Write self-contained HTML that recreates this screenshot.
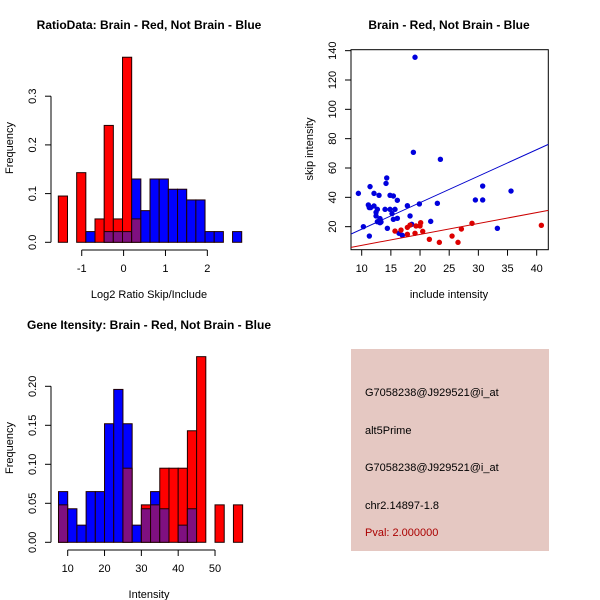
<!DOCTYPE html>
<html><head><meta charset="utf-8"><style>
html,body{margin:0;padding:0;background:#fff}
svg{display:block;font-family:"Liberation Sans",sans-serif}
</style></head><body>
<svg id="c" width="600" height="600" viewBox="0 0 600 600"></svg>
<script>
// Panel 1: ratio histogram (bins start -1.559, width 0.219)
const ratioRed=[0.095,0,0.143,0,0.048,0.24,0.048,0.38,0.048,0,0,0,0,0,0,0,0,0,0,0];
const ratioBlue=[0,0,0,0.022,0,0.022,0.022,0.022,0.13,0.065,0.13,0.13,0.109,0.109,0.087,0.087,0.022,0.022,0,0.022];
const ratioXTicks=[-1,0,1,2];
const ratioYTicks=[0,0.1,0.2,0.3];
// Panel 2: scatter
const blueX=[9.43,10.29,11.43,11.14,11.31,11.54,12.11,12.11,12.46,12.46,12.69,12.97,12.69,13.14,13.14,13.31,14,14.17,14.29,14.4,14.86,14.86,15.2,15.43,15.43,15.71,16.11,16.11,16.4,16.97,17.83,18.29,18.57,18.86,19.14,19.89,21.83,22.97,23.49,29.49,30.74,30.74,33.26,35.6,11.3];
const blueY=[42.7,20,47.3,34.8,13.6,33,42.7,34.1,29.8,27.3,31.8,41.4,23.4,22.7,25.5,23.2,31.8,49.5,53.2,18.9,41.4,31.8,28.9,40.9,25,31.8,38,25.7,15.5,14.1,34.3,27.3,21.6,70.7,135.5,35.5,23.6,35.9,65.9,38.2,47.7,38.2,18.9,44.3,33];
const redX=[15.71,16.74,17.83,17.83,18.29,19.14,19.31,20,20.11,20.46,21.6,23.31,25.49,26.51,27.09,28.91,40.8];
const redY=[17,17.7,14.8,19.5,21.1,15.5,20.5,20.5,22.7,16.8,11.4,9.3,13.6,9.3,18.4,22.3,20.9];
const blueLine=[15,76.1];   // y at x=8.17 and x=42
const redLine=[5.9,31.1];
const scatXTicks=[10,15,20,25,30,35,40];
const scatYTicks=[20,40,60,80,100,120,140];
// Panel 3: intensity histogram (bins start 7.5, width 2.5)
const intRed=[0.048,0,0,0,0,0,0,0.095,0,0.048,0.048,0.095,0.095,0.095,0.143,0.238,0,0.048,0,0.048];
const intBlue=[0.065,0.043,0.022,0.065,0.065,0.152,0.196,0.152,0.022,0.043,0.065,0.043,0,0.022,0.043,0,0,0,0,0];
const intXTicks=[10,20,30,40,50];
const intYTicks=[0,0.05,0.10,0.15,0.20];
const infoLines=["G7058238@J929521@i_at","alt5Prime","G7058238@J929521@i_at","chr2.14897-1.8"];
const pvalText="Pval: 2.000000";

const svg=document.getElementById('c');
const NS='http://www.w3.org/2000/svg';
function el(tag,a,txt){const e=document.createElementNS(NS,tag);for(const k in a)e.setAttribute(k,a[k]);if(txt!==undefined)e.textContent=txt;svg.appendChild(e);return e;}
function txt(x,y,s,size,opts){opts=opts||{};const a={x:x,y:y,'font-size':size,'text-anchor':opts.anchor||'middle',fill:opts.fill||'#000'};if(opts.bold)a['font-weight']='bold';if(opts.rot)a.transform='rotate(-90 '+x+' '+y+')';return el('text',a,s);}

function histogram(name,red,blue,start,w,sx,sy,y0){
  for(let i=0;i<red.length;i++){
    const r=red[i],b=blue[i];if(!r&&!b)continue;
    const x1=sx(start+i*w),x2=sx(start+(i+1)*w);
    const hi=Math.max(r,b),lo=Math.min(r,b);
    let e=el('rect',{x:x1,y:sy(hi),width:x2-x1,height:y0-sy(hi),fill:r>=b?'#ff0000':'#0000ff',stroke:'#200000','stroke-width':1});
    
    
    if(lo>0){
      e=el('rect',{x:x1,y:sy(lo),width:x2-x1,height:y0-sy(lo),fill:'#7f1080',stroke:'#200000','stroke-width':1});
      
      
    }
  }
}
function yaxis(x,ticks,sy,fmt){
  el('line',{x1:x,y1:sy(ticks[0]),x2:x,y2:sy(ticks[ticks.length-1]),stroke:'#000'});
  ticks.forEach(t=>{el('line',{x1:x-6,y1:sy(t),x2:x,y2:sy(t),stroke:'#000'});
    const e=txt(x-15,sy(t),fmt(t),11,{rot:1});});
}
function xaxis(y,ticks,sx){
  el('line',{x1:sx(ticks[0]),y1:y,x2:sx(ticks[ticks.length-1]),y2:y,stroke:'#000'});
  ticks.forEach(t=>{el('line',{x1:sx(t),y1:y,x2:sx(t),y2:y+6,stroke:'#000'});
    const e=txt(sx(t),y+22,String(t),11);});
}

// Panel 1
{const sx=v=>123.6+v*41.87, sy=v=>242.3-v*487;
 histogram('ratio',ratioRed,ratioBlue,-1.559,0.219,sx,sy,242.3);
 yaxis(51,ratioYTicks,sy,t=>t.toFixed(1));
 xaxis(250,ratioXTicks,sx);
 let e=txt(149,29,'RatioData: Brain - Red, Not Brain - Blue',12,{bold:1});
 e=txt(149,298,'Log2 Ratio Skip/Include',11);
 e=txt(13,148,'Frequency',11,{rot:1});}

// Panel 2
{const sx=v=>361.7+(v-10)*5.833, sy=v=>256-v*1.4667;
 el('clipPath',{id:'cp'});
 const cp=svg.lastChild;const cr=document.createElementNS(NS,'rect');cr.setAttribute('x',351);cr.setAttribute('y',49.7);cr.setAttribute('width',197.3);cr.setAttribute('height',200);cp.appendChild(cr);
 let e=el('rect',{x:351,y:49.7,width:197.3,height:200,fill:'none',stroke:'#000'});
 blueX.forEach((x,i)=>{const c=el('circle',{cx:sx(x),cy:sy(blueY[i]),r:2.7,fill:'#0000dd'});});
 redX.forEach((x,i)=>{const c=el('circle',{cx:sx(x),cy:sy(redY[i]),r:2.7,fill:'#dd0000'});});
 e=el('line',{x1:sx(8.17),y1:sy(blueLine[0]),x2:sx(42),y2:sy(blueLine[1]),stroke:'#0000cc','clip-path':'url(#cp)'});
 e=el('line',{x1:sx(8.17),y1:sy(redLine[0]),x2:sx(42),y2:sy(redLine[1]),stroke:'#cc0000','clip-path':'url(#cp)'});
 scatXTicks.forEach(t=>{el('line',{x1:sx(t),y1:249.7,x2:sx(t),y2:255.7,stroke:'#000'});const l=txt(sx(t),272,String(t),11);});
 scatYTicks.forEach(t=>{el('line',{x1:345,y1:sy(t),x2:351,y2:sy(t),stroke:'#000'});const l=txt(336,sy(t),String(t),11,{rot:1});});
 e=txt(449,29,'Brain - Red, Not Brain - Blue',12,{bold:1});
 e=txt(449,298,'include intensity',11);
 e=txt(313,149,'skip intensity',11,{rot:1});}

// Panel 3
{const sx=v=>67.7+(v-10)*3.683, sy=v=>542.3-v*780;
 histogram('intensity',intRed,intBlue,7.5,2.5,sx,sy,542.3);
 yaxis(51,intYTicks,sy,t=>t.toFixed(2));
 xaxis(550,intXTicks,sx);
 let e=txt(149,329,'Gene Itensity: Brain - Red, Not Brain - Blue',12,{bold:1});
 e=txt(149,598,'Intensity',11);
 e=txt(13,448,'Frequency',11,{rot:1});}

// Panel 4
{let e=el('rect',{x:351,y:349,width:198,height:202,fill:'#e5c8c2'});
 const ys=[396,434,471,509];
 infoLines.forEach((s,i)=>{const t=txt(365,ys[i],s,11,{anchor:'start'});});
 e=txt(365,536,pvalText,11,{anchor:'start',fill:'#aa0000'});}
</script>
</body></html>
